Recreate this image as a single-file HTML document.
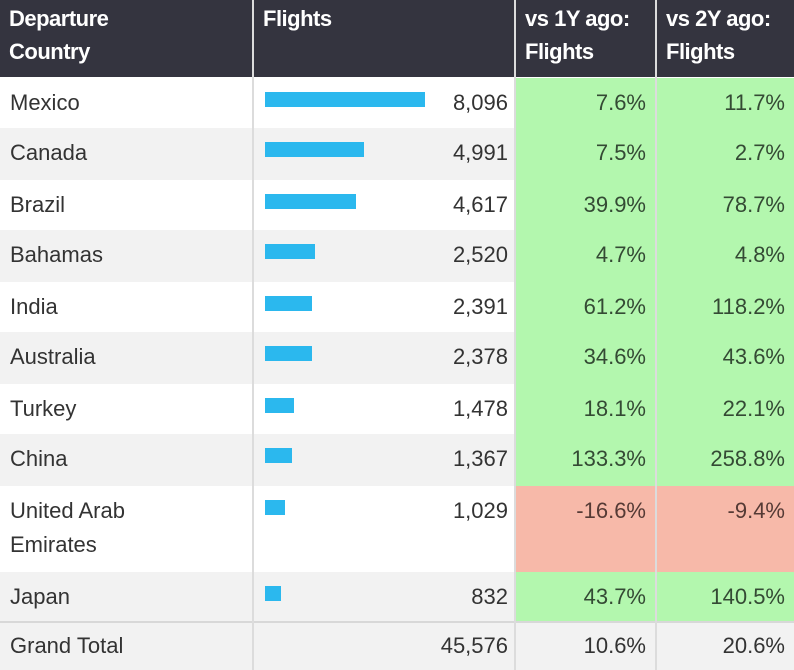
<!DOCTYPE html>
<html><head><style>
*{margin:0;padding:0;box-sizing:border-box}
body{width:794px;height:670px;background:#fff;font-family:"Liberation Sans",sans-serif;overflow:hidden;position:relative;color:#333}
.h{background:#34343f;color:#fff;font-weight:bold;font-size:22px;line-height:33px;padding:2px 9px;position:absolute;top:0;height:77px;letter-spacing:-0.5px}
.bar{position:absolute;height:15px;background:#2bb8ee;left:265px}
.t{position:absolute;font-size:22px;line-height:24px}
</style></head><body>
<div class="h" style="left:0;width:252px">Departure<br>Country</div>
<div class="h" style="left:254px;width:260px">Flights</div>
<div class="h" style="left:516px;width:139px">vs 1Y ago:<br>Flights</div>
<div class="h" style="left:657px;width:137px">vs 2Y ago:<br>Flights</div>
<div id="rows"></div>
<script>
var d=[["Mexico",8096,"8,096","7.6%","11.7%",78,50],["Canada",4991,"4,991","7.5%","2.7%",128,52],["Brazil",4617,"4,617","39.9%","78.7%",180,50],["Bahamas",2520,"2,520","4.7%","4.8%",230,52],["India",2391,"2,391","61.2%","118.2%",282,50],["Australia",2378,"2,378","34.6%","43.6%",332,52],["Turkey",1478,"1,478","18.1%","22.1%",384,50],["China",1367,"1,367","133.3%","258.8%",434,52],["United Arab<br>Emirates",1029,"1,029","-16.6%","-9.4%",486,86],["Japan",832,"832","43.7%","140.5%",572,49]];
var h="";
d.forEach(function(r,i){
var bg=i%2?"#f2f2f2":"#fff",y=r[5],hh=r[6],neg=r[3][0]=="-";
var cc=neg?"#f7b9a9":"#b3f7ae",tc=neg?"#553a35":"#344a34";
h+='<div style="position:absolute;left:0;top:'+y+'px;width:516px;height:'+hh+'px;background:'+bg+'"></div>';
h+='<div style="position:absolute;left:516px;top:'+y+'px;width:278px;height:'+hh+'px;background:'+cc+'"></div>';
h+='<div class="t" style="left:10px;top:'+(y+8)+'px;line-height:34px">'+r[0]+'</div>';
h+='<div class="bar" style="top:'+(y+14)+'px;width:'+Math.round(r[1]/8096*160)+'px"></div>';
h+='<div class="t" style="right:286px;top:'+(y+13)+'px">'+r[2]+'</div>';
h+='<div class="t" style="right:148px;top:'+(y+13)+'px;color:'+tc+'">'+r[3]+'</div>';
h+='<div class="t" style="right:9px;top:'+(y+13)+'px;color:'+tc+'">'+r[4]+'</div>';
});
h+='<div style="position:absolute;left:0;top:621px;width:794px;height:49px;background:#f2f2f2;border-top:2px solid #d8d8d8"></div>';
h+='<div class="t" style="left:10px;top:634px">Grand Total</div>';
h+='<div class="t" style="right:286px;top:634px">45,576</div>';
h+='<div class="t" style="right:148px;top:634px">10.6%</div>';
h+='<div class="t" style="right:9px;top:634px">20.6%</div>';
[252,514,655].forEach(function(x){h+='<div style="position:absolute;left:'+x+'px;top:0;width:2px;height:670px;background:#dcdcdc"></div>'});
document.getElementById("rows").innerHTML=h;
</script>
</body></html>
